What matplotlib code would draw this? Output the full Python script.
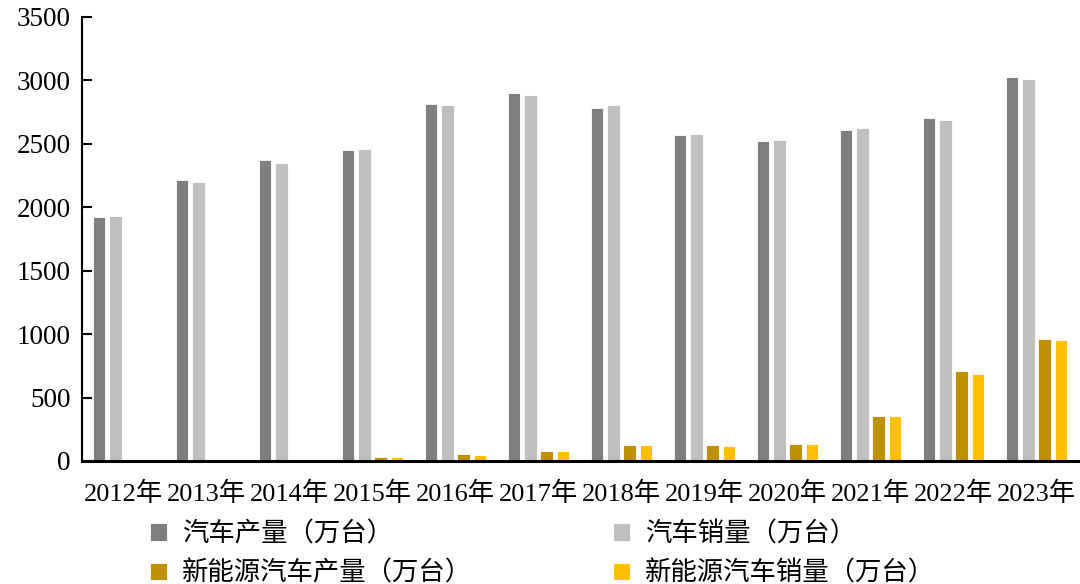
import matplotlib
matplotlib.use("Agg")
import matplotlib.pyplot as plt
import numpy as np

years = ["2012年", "2013年", "2014年", "2015年", "2016年", "2017年",
         "2018年", "2019年", "2020年", "2021年", "2022年", "2023年"]
car_prod = [1927, 2212, 2372, 2450, 2812, 2902, 2781, 2572, 2523, 2608, 2702, 3025]
car_sales = [1931, 2198, 2349, 2460, 2803, 2888, 2808, 2577, 2531, 2628, 2686, 3009]
nev_prod = [1.3, 1.8, 7.9, 34, 52, 79, 127, 124, 137, 355, 706, 959]
nev_sales = [1.3, 1.8, 7.5, 33, 51, 78, 126, 121, 137, 352, 689, 950]

series_names = ["汽车产量（万台）", "汽车销量（万台）", "新能源汽车产量（万台）", "新能源汽车销量（万台）"]
colors = ["#7f7f7f", "#bfbfbf", "#bf9000", "#ffc000"]

plt.rcParams['font.family'] = ['Liberation Serif', 'Noto Sans CJK SC', 'DejaVu Sans']

fig = plt.figure(figsize=(10.8, 5.84), dpi=100)
ax = fig.add_axes([82/1080, 1-461/584, 996/1080, 444/584])

x = np.arange(len(years))
pitch = 0.193
width = 0.145
data = [car_prod, car_sales, nev_prod, nev_sales]
handles = []
for i, (vals, c, name) in enumerate(zip(data, colors, series_names)):
    h = ax.bar(x + (i - 1.5) * pitch, vals, width=width, color=c,
               edgecolor="white", linewidth=0.6, label=name, zorder=2)
    handles.append(h)

ax.set_xlim(-0.5, len(years) - 0.5)
ax.set_ylim(0, 3500)
ax.set_yticks(np.arange(0, 3501, 500))
ax.set_xticks(x)
ax.set_xticklabels(years, fontsize=19)
ax.tick_params(axis='y', direction='in', length=7, width=1.5, labelsize=19.5, pad=8)
ax.tick_params(axis='x', length=0, pad=15)
for s in ["top", "right"]:
    ax.spines[s].set_visible(False)
ax.spines["left"].set_linewidth(1.5)
ax.spines["bottom"].set_linewidth(2.2)

order = [0, 2, 1, 3]
leg = fig.legend([handles[k] for k in order], [series_names[k] for k in order],
                 ncol=2, loc="upper left", bbox_to_anchor=(150/1080, 1-521/584),
                 frameon=False, fontsize=19, handlelength=0.65, handleheight=0.65,
                 handletextpad=0.55, columnspacing=5.35, labelspacing=0.55,
                 borderaxespad=0, borderpad=0)

fig.savefig("out.png", dpi=100)
